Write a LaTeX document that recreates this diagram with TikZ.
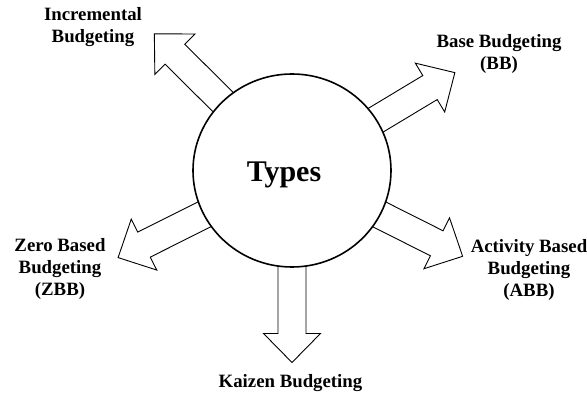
\documentclass[tikz,border=0pt]{standalone}
\usepackage{fontspec}
\setmainfont{Liberation Serif}
\usetikzlibrary{calc,shapes.geometric}
\tikzset{
  arrowbody/.style={draw=black, fill=white, line width=0.9pt, line join=miter},
  hub/.style={ellipse, draw=black, fill=white, line width=1.6pt, inner sep=0pt,
    minimum width=198pt, minimum height=193pt},
  lbl/.style={align=center, font=\fontsize{18.8}{22}\selectfont\bfseries, inner sep=0pt},
  hublbl/.style={font=\fontsize{30}{34}\selectfont\bfseries, inner sep=0pt}
}
\newcommand{\blockarr}[2]{%
  \pgfmathsetmacro{\tipd}{#2}%
  \pgfmathsetmacro{\based}{#2-29}%
  \draw[arrowbody]
    ($(c)+(#1:60)+(#1+90:14)$) -- ($(c)+(#1:\based)+(#1+90:14)$) --
    ($(c)+(#1:\based)+(#1+90:28.5)$) -- ($(c)+(#1:\tipd)$) --
    ($(c)+(#1:\based)+(#1-90:28.5)$) -- ($(c)+(#1:\based)+(#1-90:14)$) --
    ($(c)+(#1:60)+(#1-90:14)$) -- cycle;}
\begin{document}
\begin{tikzpicture}[x=1pt,y=-1pt]
\useasboundingbox (0,0) rectangle (587,395);
\coordinate (c) at (292,170.5);
\blockarr{-135.2}{194}
\blockarr{-31}{190}
\blockarr{153.4}{194.5}
\blockarr{26.7}{191}
\blockarr{90}{192}
\node[hub] (types) at (c) {};
\node[hublbl] (typeslbl) at (284,175) {Types};
\node[lbl] (inc) at (93,27) {Incremental\\Budgeting};
\node[lbl] (bb) at (499,53.5) {Base Budgeting\\(BB)};
\node[lbl] (zbb) at (60,269) {Zero Based\\Budgeting\\(ZBB)};
\node[lbl] (abb) at (529,270) {Activity Based\\Budgeting\\(ABB)};
\node[lbl] (kaizen) at (290.5,383.5) {Kaizen Budgeting};
\end{tikzpicture}
\end{document}
